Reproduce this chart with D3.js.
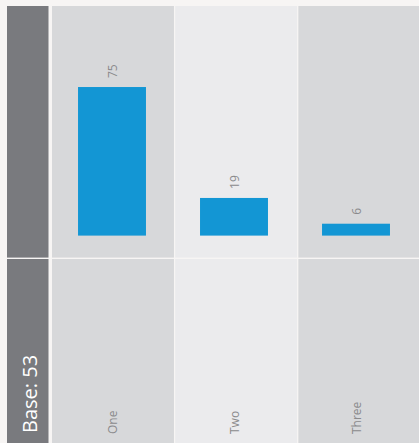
<!DOCTYPE html>
<html>
<head>
<meta charset="utf-8">
<script src="https://cdn.jsdelivr.net/npm/d3@7"></script>
<style>
  html, body { margin: 0; padding: 0; background: #f7f5f4; }
  svg { display: block; }
  text { font-family: "Open Sans", "Noto Sans", sans-serif; }
</style>
</head>
<body>
<svg id="chart" width="419" height="443"></svg>
<script>
// Chart data
const categories = ["One", "Two", "Three"];
const values = [75, 19, 6];
const baseLabel = "Base: 53";

const W = 419, H = 443;
const svg = d3.select("#chart");

const panelTop = 6, split = 258.2, panelBottom = H;
const plotTop = 37.5, baseline = 235.6;

// Column cells (alternating shades)
const colX = d3.scaleBand().domain(categories).range([52, 421.5]).paddingInner(0);
const barX = d3.scaleBand().domain(categories).range([51, 417]).paddingInner(0.443).paddingOuter(0.2215);
const y = d3.scaleLinear().domain([0, 100]).range([baseline, plotTop]);

const shade = (i) => (i % 2 === 1 ? "#ebebed" : "#d7d8da");

// Left base panel
svg.append("rect").attr("x", 7).attr("y", panelTop).attr("width", 41.5).attr("height", split - panelTop - 0.6).attr("fill", "#797a7e");
svg.append("rect").attr("x", 7).attr("y", split + 0.8).attr("width", 41.5).attr("height", panelBottom - split).attr("fill", "#797a7e");

const cols = svg.append("g").selectAll("g").data(categories).join("g");
cols.append("rect")
  .attr("x", d => colX(d))
  .attr("y", panelTop)
  .attr("width", colX.step() - 1.2)
  .attr("height", split - panelTop - 0.6)
  .attr("fill", (d, i) => shade(i));
cols.append("rect")
  .attr("x", d => colX(d))
  .attr("y", split + 0.8)
  .attr("width", colX.step() - 1.2)
  .attr("height", panelBottom - split)
  .attr("fill", (d, i) => shade(i));

// Bars
svg.append("g").selectAll("rect").data(values).join("rect")
  .attr("x", (d, i) => barX(categories[i]))
  .attr("y", d => y(d))
  .attr("width", barX.bandwidth())
  .attr("height", d => baseline - y(d))
  .attr("fill", "#1396d4");

// Value labels, rotated above each bar
svg.append("g").selectAll("text").data(values).join("text")
  .attr("transform", (d, i) => `translate(${barX(categories[i]) + barX.bandwidth() / 2 + 4.5},${y(d) - 9}) rotate(-90)`)
  .attr("text-anchor", "start")
  .attr("font-size", 12)
  .attr("fill", "#8a8a8c")
  .text(d => d);

// Category labels at the bottom
svg.append("g").selectAll("text").data(categories).join("text")
  .attr("transform", d => `translate(${barX(d) + barX.bandwidth() / 2 + 4.5},${H - 9}) rotate(-90)`)
  .attr("text-anchor", "start")
  .attr("font-size", 12)
  .attr("fill", "#8a8a8c")
  .text(d => d);

// Base label
svg.append("text")
  .attr("transform", `translate(${36.5},${H - 10}) rotate(-90)`)
  .attr("text-anchor", "start")
  .attr("font-size", 20)
  .attr("fill", "#ffffff")
  .text(baseLabel);
</script>
</body>
</html>
